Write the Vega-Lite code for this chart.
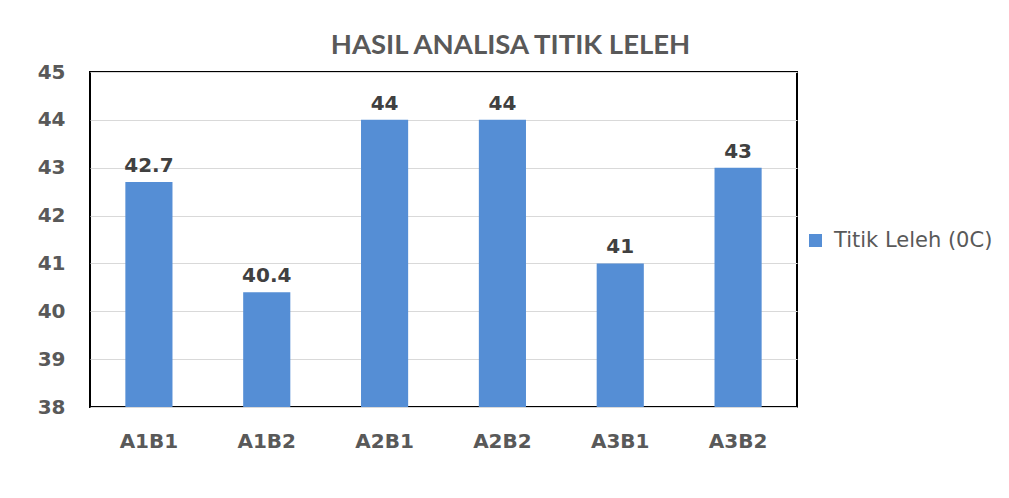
{
  "$schema": "https://vega.github.io/schema/vega-lite/v6.json",
  "autosize": "none",
  "width": 707,
  "height": 335,
  "padding": {"left": 90, "top": 72, "right": 212, "bottom": 91},
  "background": "white",
  "title": {
    "text": "HASIL ANALISA TITIK LELEH",
    "font": "Lato",
    "fontSize": 27.5,
    "fontWeight": "bold",
    "color": "#595959",
    "anchor": "middle",
    "dx": 67,
    "offset": 3
  },
  "config": {
    "view": {"stroke": "#000000", "strokeWidth": 2},
    "axis": {"labelFont": "DejaVu Sans", "labelFontWeight": "bold", "labelFontSize": 20, "labelColor": "#595959", "ticks": false, "domain": false, "title": null}
  },
  "data": {
    "values": [
      {"sampel": "A1B1", "nilai": 42.7, "seri": "Titik Leleh (0C)"},
      {"sampel": "A1B2", "nilai": 40.4, "seri": "Titik Leleh (0C)"},
      {"sampel": "A2B1", "nilai": 44, "seri": "Titik Leleh (0C)"},
      {"sampel": "A2B2", "nilai": 44, "seri": "Titik Leleh (0C)"},
      {"sampel": "A3B1", "nilai": 41, "seri": "Titik Leleh (0C)"},
      {"sampel": "A3B2", "nilai": 43, "seri": "Titik Leleh (0C)"}
    ]
  },
  "encoding": {
    "x": {
      "field": "sampel", "type": "nominal", "sort": null,
      "scale": {"paddingInner": 0.6, "paddingOuter": 0.3},
      "axis": {"labelAngle": 0, "labelPadding": 24, "grid": false}
    },
    "y": {
      "field": "nilai", "type": "quantitative",
      "scale": {"domain": [38, 45], "zero": false, "nice": false},
      "axis": {"values": [38, 39, 40, 41, 42, 43, 44, 45], "labelPadding": 25, "grid": true, "gridColor": "#d9d9d9", "gridWidth": 1}
    }
  },
  "layer": [
    {
      "mark": {"type": "bar", "clip": true},
      "encoding": {
        "color": {
          "field": "seri", "type": "nominal",
          "scale": {"range": ["#558ed5"]},
          "legend": {
            "title": null, "orient": "none", "legendX": 715, "legendY": 158,
            "symbolType": "square", "symbolSize": 169, "symbolStrokeWidth": 0,
            "labelFont": "DejaVu Sans", "labelFontSize": 21, "labelColor": "#595959", "labelOffset": 8
          }
        }
      }
    },
    {
      "mark": {"type": "text", "font": "DejaVu Sans", "fontWeight": "bold", "fontSize": 20, "color": "#404040", "baseline": "alphabetic", "dy": -10},
      "encoding": {"text": {"field": "nilai", "type": "quantitative"}}
    }
  ]
}
